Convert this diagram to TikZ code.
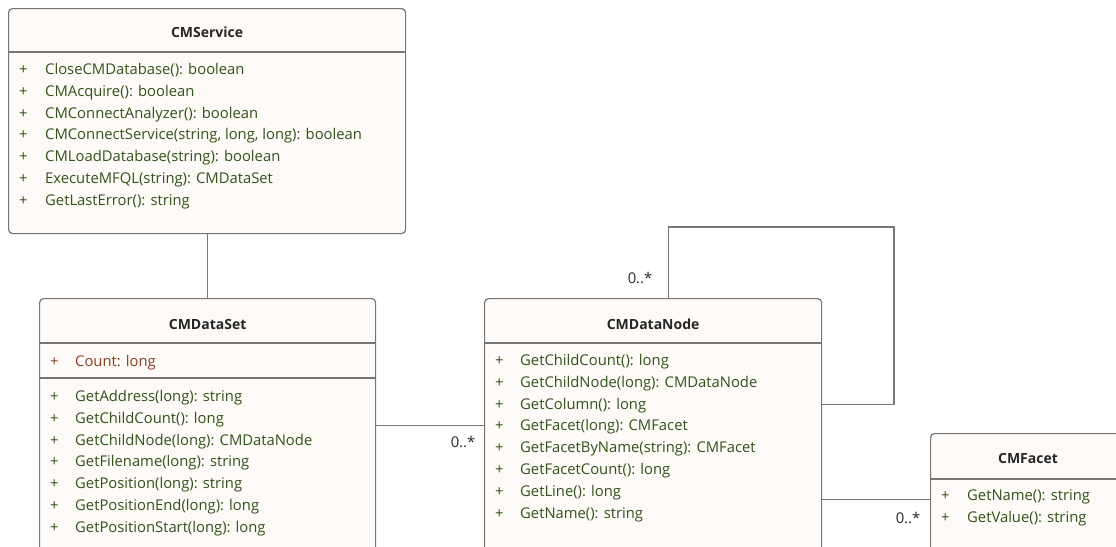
\documentclass[tikz,border=0pt]{standalone}
\usepackage{fontspec}
\setmainfont{Open Sans}
\usetikzlibrary{positioning}
\definecolor{boxfill}{RGB}{253,250,247}
\definecolor{boxline}{RGB}{118,118,118}
\definecolor{optext}{RGB}{50,82,28}
\definecolor{attrtext}{RGB}{138,62,32}
\definecolor{titletext}{RGB}{38,38,38}
\tikzset{
  classbox/.style={draw=boxline,fill=boxfill,line width=1.2pt,rounded corners=4pt,anchor=north west,inner sep=0pt},
  classtitle/.style={font=\bfseries\fontsize{14}{16}\selectfont,text=titletext,inner sep=0pt},
  member/.style={anchor=west,font=\fontsize{14.8}{17}\selectfont,text=optext,inner sep=0pt,text height=11pt,text depth=3.5pt},
  mult/.style={font=\fontsize{14.8}{17}\selectfont,text=titletext,inner sep=0pt},
  assoc/.style={draw=boxline,line width=1.2pt}
}
% one row per member: prefix, x of +, x of text, first y, list
\newcommand{\members}[6][optext]{%
  \foreach \m [count=\i from 0] in {#6} {
    \node[member,text=#1] (#2p\i) at (#3,{#5+1.5+21.9*\i}) {+};
    \node[member,text=#1] (#2m\i) at (#4,{#5+1.5+21.9*\i}) {\m};
  }}
\begin{document}
\begin{tikzpicture}[x=1pt,y=-1pt]
  \useasboundingbox (0,0) rectangle (1116,546);
  \clip (0,0) rectangle (1116,546);
  % classes
  \node[classbox,minimum width=397pt,minimum height=225pt] (service) at (8,8) {};
  \node[classbox,minimum width=336pt,minimum height=254pt] (dataset) at (39,298) {};
  \node[classbox,minimum width=337pt,minimum height=254pt] (datanode) at (484,298) {};
  \node[classbox,minimum width=200pt,minimum height=131pt] (facet) at (930,433) {};
  % compartments
  \draw[boxline,line width=1.2pt] (service.west |- 0,52) -- (service.east |- 0,52);
  \draw[boxline,line width=1.2pt] (dataset.west |- 0,343) -- (dataset.east |- 0,343);
  \draw[boxline,line width=1.2pt] (dataset.west |- 0,378) -- (dataset.east |- 0,378);
  \draw[boxline,line width=1.2pt] (datanode.west |- 0,343) -- (datanode.east |- 0,343);
  \draw[boxline,line width=1.2pt] (facet.west |- 0,479) -- (facet.east |- 0,479);
  % titles
  \node[classtitle] (service-t) at (service.north |- 0,32) {CMService};
  \node[classtitle] (dataset-t) at (dataset.north |- 0,324) {CMDataSet};
  \node[classtitle] (datanode-t) at (datanode.north |- 0,324) {CMDataNode};
  \node[classtitle] (facet-t) at (1028,458) {CMFacet};
  % members
  \members{svc}{19}{45}{69}{{CloseCMDatabase(): boolean},{CMAcquire(): boolean},
    {CMConnectAnalyzer(): boolean},{CMConnectService(string, long, long): boolean},
    {CMLoadDatabase(string): boolean},{ExecuteMFQL(string): CMDataSet},{GetLastError(): string}}
  \members[attrtext]{dsa}{50}{75}{361}{{Count: long}}
  \members{dso}{50}{75}{396}{{GetAddress(long): string},{GetChildCount(): long},
    {GetChildNode(long): CMDataNode},{GetFilename(long): string},{GetPosition(long): string},
    {GetPositionEnd(long): long},{GetPositionStart(long): long}}
  \members{dno}{495}{520}{360}{{GetChildCount(): long},{GetChildNode(long): CMDataNode},
    {GetColumn(): long},{GetFacet(long): CMFacet},{GetFacetByName(string): CMFacet},
    {GetFacetCount(): long},{GetLine(): long},{GetName(): string}}
  \members{fco}{941}{967}{495}{{GetName(): string},{GetValue(): string}}
  % associations
  \coordinate (loop) at (894,227);
  \draw[assoc] (service.south) -- (service.south |- dataset.north);
  \draw[assoc] (dataset.east) -- (datanode.west);
  \draw[assoc] ([xshift=15.5pt]datanode.north) |- (loop) |- ([yshift=21pt]datanode.east);
  \draw[assoc] (facet.west -| datanode.east) -- (facet.west);
  % multiplicities
  \node[mult] (m-node) at (463,442) {0..*};
  \node[mult] (m-self) at (640,278) {0..*};
  \node[mult] (m-facet) at (908,518) {0..*};
\end{tikzpicture}
\end{document}
